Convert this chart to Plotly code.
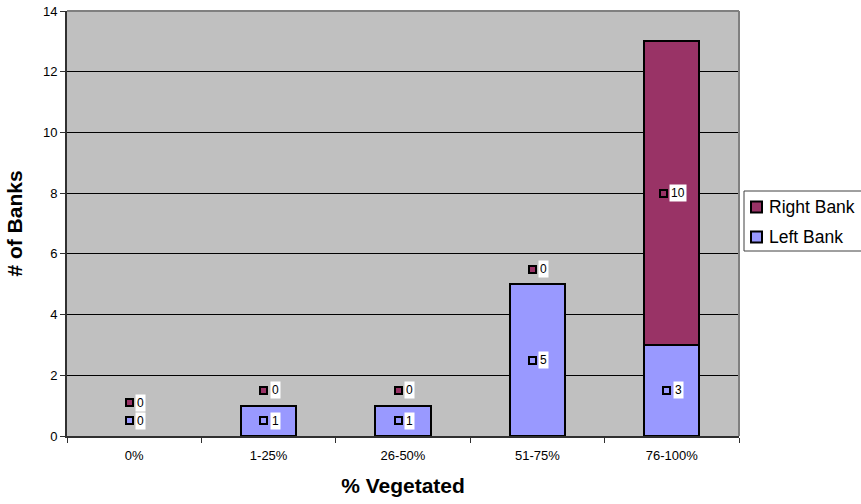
import plotly.graph_objects as go

# Survey counts of vegetated banks per coverage class
categories = ["0%", "1-25%", "26-50%", "51-75%", "76-100%"]
left_bank = [0, 1, 1, 5, 3]
right_bank = [0, 0, 0, 0, 10]
y_ticks = [0, 2, 4, 6, 8, 10, 12, 14]

LEFT_COLOR = "#9999FF"
RIGHT_COLOR = "#993366"
FONT = "Liberation Sans, Arial, sans-serif"

# plot area in pixels (for paper-coordinate helpers)
W, H = 861, 504
L, R, T, B = 67, 122, 11, 68
PW, PH = W - L - R, H - T - B


def px_x(px):
    return (px - L) / PW


def px_y(py):
    return (H - B - py) / PH


fig = go.Figure()
series = [("Left Bank", left_bank, LEFT_COLOR), ("Right Bank", right_bank, RIGHT_COLOR)]
for name, vals, color in series:
    fig.add_trace(go.Bar(
        name=name, x=categories, y=vals,
        marker=dict(color=color,
                    line=dict(color="black", width=[2 if v else 0 for v in vals])),
        showlegend=False,
    ))

# data labels: small legend-key square followed by the value on white
label_font = dict(family=FONT, size=12, color="black")
for i, cat in enumerate(categories):
    base = 0
    prev_y = None
    for name, vals, color in series:
        v = vals[i]
        y = base + v / 2 if v else base + 0.5
        if prev_y is not None and y - prev_y < 0.5:
            y = prev_y + 0.6
        prev_y = y
        base += v
        text = str(v)
        shift = 3.5 * (len(text) - 1)
        fig.add_annotation(
            x=cat, y=y, xref="x", yref="y", text=" ", showarrow=False,
            width=5, height=5, bgcolor=color, bordercolor="black",
            borderwidth=2, borderpad=0, xshift=-5 - shift,
        )
        fig.add_annotation(
            x=cat, y=y, xref="x", yref="y", text=text, showarrow=False,
            xanchor="left", bgcolor="white", borderpad=1, font=label_font,
            xshift=1 - shift,
        )

# plot-area border (top and right)
fig.add_shape(type="line", xref="paper", yref="paper", x0=0, x1=1, y0=1, y1=1,
              line=dict(color="#808080", width=2))
fig.add_shape(type="line", xref="paper", yref="paper", x0=1, x1=1, y0=0, y1=1,
              line=dict(color="#808080", width=2))

# legend box
fig.add_shape(type="rect", xref="paper", yref="paper",
              x0=px_x(744), x1=px_x(905), y0=px_y(251), y1=px_y(191),
              line=dict(color="#404040", width=1), fillcolor="white", layer="below")
for (name, vals, color), cy in zip(reversed(series), (207, 237)):
    fig.add_shape(type="rect", xref="paper", yref="paper",
                  x0=px_x(751), x1=px_x(762), y0=px_y(cy + 5.5), y1=px_y(cy - 5.5),
                  line=dict(color="black", width=2), fillcolor=color)
    fig.add_annotation(x=px_x(767), y=px_y(cy), xref="paper", yref="paper",
                       text=name, showarrow=False, xanchor="left", yanchor="middle",
                       font=dict(family=FONT, size=17.5, color="black"))

fig.update_layout(
    width=W, height=H,
    margin=dict(l=L, r=R, t=T, b=B, pad=0),
    barmode="stack", bargap=0.59,
    plot_bgcolor="#C0C0C0", paper_bgcolor="white",
    font=dict(family=FONT, color="black"),
    showlegend=False,
    xaxis=dict(
        type="category", automargin=False, showline=True, linecolor="#303030",
        linewidth=2, ticks="outside", tickson="boundaries", ticklen=5,
        tickcolor="#303030", tickfont=dict(size=13), ticklabelstandoff=6,
        showgrid=False,
        title=dict(text="<b>% Vegetated</b>", font=dict(size=21), standoff=17),
    ),
    yaxis=dict(
        range=[0, 14], tickvals=y_ticks, automargin=False, showline=True,
        linecolor="#303030", linewidth=2, ticks="outside", ticklen=5,
        tickcolor="#303030", tickfont=dict(size=13), showgrid=True,
        gridcolor="black", gridwidth=1, zeroline=False,
        title=dict(text="<b># of Banks</b>", font=dict(size=21), standoff=15),
    ),
)

fig.write_html("out.html")
